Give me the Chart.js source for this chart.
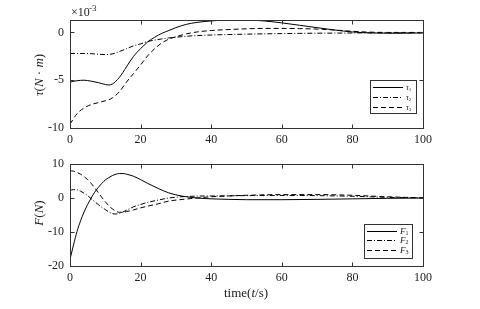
<!DOCTYPE html>
<html>
<head>
<meta charset="utf-8">
<script src="https://cdn.jsdelivr.net/npm/chart.js@4.4.1/dist/chart.umd.min.js"></script>
<style>
  html, body { margin: 0; padding: 0; background: #fff; }
  #wrap { position: relative; width: 480px; height: 309px; }
  canvas { position: absolute; left: 0; }
</style>
</head>
<body>
<div id="wrap">
  <canvas id="tauChart" width="480" height="150" style="top:0"></canvas>
  <canvas id="forceChart" width="480" height="159" style="top:150px"></canvas>
</div>
<script>
// time axis (s)
const timeTicks = [0, 20, 40, 60, 80, 100];

// torque, in units of 1e-3 N·m
const tauTime = [0, 2, 4, 6, 8, 10, 11, 12, 14, 16, 18, 20, 22, 24, 26, 28, 30, 33, 36, 40, 45, 50, 55, 60, 65, 70, 75, 80, 85, 90, 95, 100];
const tau1 = [-5.2, -5.05, -5.0, -5.1, -5.25, -5.45, -5.5, -5.4, -4.7, -3.6, -2.5, -1.7, -1.0, -0.5, -0.1, 0.2, 0.5, 0.85, 1.05, 1.2, 1.3, 1.3, 1.2, 1.0, 0.75, 0.5, 0.25, 0.05, -0.05, -0.08, -0.08, -0.05];
const tau2 = [-2.2, -2.2, -2.2, -2.22, -2.28, -2.32, -2.3, -2.25, -2.0, -1.7, -1.4, -1.2, -0.95, -0.8, -0.68, -0.58, -0.5, -0.4, -0.33, -0.27, -0.22, -0.18, -0.15, -0.12, -0.1, -0.08, -0.07, -0.06, -0.05, -0.05, -0.05, -0.05];
const tau3 = [-9.6, -8.5, -7.9, -7.55, -7.35, -7.15, -7.05, -6.85, -6.2, -5.2, -4.3, -3.4, -2.45, -1.7, -1.1, -0.7, -0.45, -0.15, 0.05, 0.2, 0.3, 0.38, 0.42, 0.42, 0.4, 0.35, 0.25, 0.12, 0.03, 0, 0, 0];
const tauTicks = [-10, -5, 0];

// force (N)
const forceTime = [0, 1, 2, 3, 4, 5, 6, 7, 8, 9, 10, 11, 12, 13, 14, 15, 16, 18, 20, 22, 25, 28, 32, 36, 40, 45, 50, 60, 70, 80, 90, 100];
const f1 = [-18, -13.8, -9.8, -6.7, -4.1, -1.9, 0, 1.7, 3.1, 4.3, 5.3, 6.0, 6.6, 7.0, 7.2, 7.2, 7.0, 6.4, 5.4, 4.3, 2.8, 1.5, 0.5, 0, -0.25, -0.4, -0.5, -0.5, -0.4, -0.25, -0.1, 0];
const f2 = [2.3, 2.45, 2.4, 2.0, 1.4, 0.7, -0.2, -1.1, -1.9, -2.7, -3.4, -4.1, -4.6, -4.7, -4.5, -4.1, -3.6, -2.6, -1.9, -1.3, -0.6, 0, 0.4, 0.55, 0.6, 0.65, 0.7, 0.75, 0.7, 0.5, 0.2, 0];
const f3 = [8.0, 7.9, 7.5, 7.0, 6.3, 5.4, 4.3, 3.0, 1.6, 0.2, -1.1, -2.3, -3.2, -3.9, -4.2, -4.2, -4.0, -3.5, -2.9, -2.4, -1.7, -0.9, -0.4, 0, 0.35, 0.6, 0.8, 1.0, 1.0, 0.8, 0.35, 0.05];
const forceTicks = [-20, -10, 0, 10];

const SERIF = '"Liberation Serif", "DejaVu Serif", serif';
const dashes = [[], [5, 2, 1, 2], [5, 3]];

function series(xs, ys, i) {
  return {
    data: xs.map((x, k) => ({ x: x, y: ys[k] })),
    borderColor: '#000',
    borderWidth: 1,
    borderDash: dashes[i],
    pointRadius: 0,
    cubicInterpolationMode: 'monotone',
    fill: false
  };
}

// draws runs of text with different fonts one after another
function richText(ctx, parts, x, y) {
  let w = 0;
  parts.forEach(p => { ctx.font = p.f; w += ctx.measureText(p.t).width; });
  let cx = x - w / 2;
  parts.forEach(p => {
    ctx.font = p.f;
    ctx.fillText(p.t, cx, y + (p.dy || 0));
    cx += ctx.measureText(p.t).width;
  });
}

const framePlugin = {
  id: 'frame',
  afterDraw(chart, args, o) {
    const { ctx, chartArea: a } = chart;
    const sx = chart.scales.x, sy = chart.scales.y;
    ctx.save();
    ctx.strokeStyle = '#333';
    ctx.lineWidth = 1;
    const L = Math.round(a.left) + 0.5, R = Math.round(a.right) + 0.5;
    const T = Math.round(a.top) + 0.5, B = Math.round(a.bottom) + 0.5;
    ctx.strokeRect(L, T, R - L, B - T);
    ctx.beginPath();
    sx.ticks.forEach(t => {
      const px = Math.round(sx.getPixelForValue(t.value)) + 0.5;
      ctx.moveTo(px, B); ctx.lineTo(px, B - 4);
      ctx.moveTo(px, T); ctx.lineTo(px, T + 4);
    });
    sy.ticks.forEach(t => {
      const py = Math.round(sy.getPixelForValue(t.value)) + 0.5;
      ctx.moveTo(L, py); ctx.lineTo(L + 4, py);
      ctx.moveTo(R, py); ctx.lineTo(R - 4, py);
    });
    ctx.stroke();

    // legend box
    const lg = o.legend;
    ctx.fillStyle = '#fff';
    ctx.fillRect(lg.x, lg.y, lg.w, lg.h);
    ctx.strokeRect(lg.x + 0.5, lg.y + 0.5, lg.w, lg.h);
    lg.labels.forEach((lab, i) => {
      const ry = Math.round(lg.y + lg.rows[i]) + 0.5;
      ctx.beginPath();
      ctx.setLineDash(dashes[i]);
      ctx.strokeStyle = '#000';
      ctx.moveTo(lg.x + 3, ry); ctx.lineTo(lg.x + lg.lineLen, ry);
      ctx.stroke();
      ctx.setLineDash([]);
      ctx.fillStyle = '#222';
      ctx.textBaseline = 'middle';
      ctx.textAlign = 'left';
      ctx.font = 'italic ' + lg.size + 'px ' + SERIF;
      const tx = lg.x + lg.lineLen + 3;
      ctx.fillText(lab, tx, ry);
      const lw = ctx.measureText(lab).width;
      ctx.font = (lg.size - 3) + 'px ' + SERIF;
      ctx.fillText(String(i + 1), tx + lw, ry + 2);
    });

    // axis titles
    ctx.fillStyle = '#222';
    ctx.textBaseline = 'middle';
    ctx.textAlign = 'left';
    ctx.save();
    ctx.translate(o.yTitle.x, o.yTitle.y);
    ctx.rotate(-Math.PI / 2);
    richText(ctx, o.yTitle.parts, 0, 0);
    ctx.restore();
    if (o.extra) o.extra(ctx);
    ctx.restore();
  }
};

function makeOptions(yMin, yMax, yTicks, padTop, xHeight, frame) {
  const tickFont = { family: SERIF, size: 12 };
  return {
    responsive: false,
    animation: false,
    layout: { padding: { left: 0, right: 57, top: padTop, bottom: 0 } },
    plugins: { legend: { display: false }, tooltip: { enabled: false }, frame: frame },
    scales: {
      x: {
        type: 'linear', min: 0, max: 100,
        grid: { display: false, drawTicks: false },
        border: { display: false },
        afterBuildTicks: s => { s.ticks = timeTicks.map(v => ({ value: v })); },
        afterFit: s => { s.height = xHeight; },
        ticks: { font: tickFont, color: '#222', padding: 5, maxRotation: 0, callback: v => String(v) }
      },
      y: {
        type: 'linear', min: yMin, max: yMax,
        grid: { display: false, drawTicks: false },
        border: { display: false },
        afterBuildTicks: s => { s.ticks = yTicks.map(v => ({ value: v })); },
        afterFit: s => { s.width = 70; },
        ticks: { font: tickFont, color: '#222', padding: 6, callback: v => String(v) }
      }
    }
  };
}

new Chart(document.getElementById('tauChart'), {
  type: 'line',
  data: { datasets: [series(tauTime, tau1, 0), series(tauTime, tau2, 1), series(tauTime, tau3, 2)] },
  options: makeOptions(-10, 1.3, tauTicks, 20, 22, {
    legend: { x: 370, y: 80, w: 46, h: 33, rows: [6.5, 16.5, 26.5], lineLen: 33, size: 8, labels: ['τ', 'τ', 'τ'] },
    yTitle: { x: 40, y: 75, parts: [
      { t: 'τ', f: 'italic 13px ' + SERIF }, { t: '(', f: '13px ' + SERIF },
      { t: 'N', f: 'italic 13px ' + SERIF }, { t: ' · ', f: '13px ' + SERIF },
      { t: 'm', f: 'italic 13px ' + SERIF }, { t: ')', f: '13px ' + SERIF }] },
    extra: ctx => {
      ctx.fillStyle = '#222';
      ctx.font = '12px ' + SERIF;
      ctx.fillText('×10', 71, 13);
      ctx.font = '9px ' + SERIF;
      ctx.fillText('-3', 89, 9);
    }
  }),
  plugins: [framePlugin]
});

new Chart(document.getElementById('forceChart'), {
  type: 'line',
  data: { datasets: [series(forceTime, f1, 0), series(forceTime, f2, 1), series(forceTime, f3, 2)] },
  options: makeOptions(-20, 10, forceTicks, 14, 43, {
    legend: { x: 364, y: 74, w: 48, h: 34, rows: [6.5, 16, 25.5], lineLen: 33, size: 9, labels: ['F', 'F', 'F'] },
    yTitle: { x: 40, y: 63, parts: [
      { t: 'F', f: 'italic 13px ' + SERIF }, { t: '(', f: '13px ' + SERIF },
      { t: 'N', f: 'italic 13px ' + SERIF }, { t: ')', f: '13px ' + SERIF }] },
    extra: ctx => {
      ctx.fillStyle = '#222';
      richText(ctx, [
        { t: 'time(', f: '13px ' + SERIF }, { t: 't', f: 'italic 13px ' + SERIF },
        { t: '/s)', f: '13px ' + SERIF }], 246, 144);
    }
  }),
  plugins: [framePlugin]
});
</script>
</body>
</html>
